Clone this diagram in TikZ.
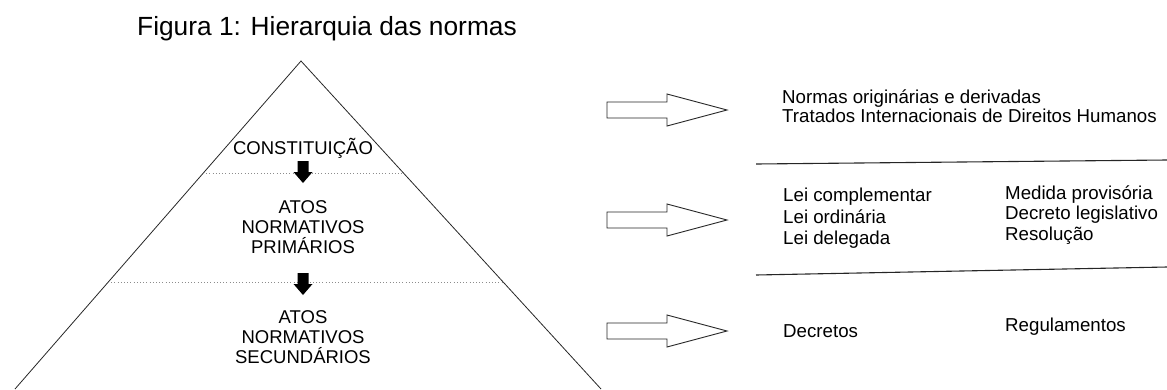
\documentclass[tikz,border=0pt]{standalone}
\usepackage{fontspec}
\setmainfont{Liberation Sans}
\begin{document}
\begin{tikzpicture}[x=1pt,y=-1pt,
  txt/.style={inner sep=0pt,anchor=base west,font=\fontsize{18.7}{20}\selectfont},
  ctxt/.style={inner sep=0pt,anchor=base,font=\fontsize{18.5}{20}\selectfont},
  side/.style={line width=0.8pt,draw=black!85},
  sep/.style={line width=1.1pt,draw=black!85},
  dots/.style={draw=black!45,line width=0.8pt,dash pattern=on 0.8pt off 2.4pt},
  blockarrow/.style={draw=black!85,line width=0.9pt,fill=white,line join=miter},
  downarrow/.style={fill=black,draw=none}]
\useasboundingbox (0,0) rectangle (1167,389);
% title
\node[inner sep=0pt,anchor=base west,font=\fontsize{26.3}{29}\selectfont] (title) at (137,35) {Figura 1: Hierarquia das normas};
% pyramid
\coordinate (apex) at (301,61);
\coordinate (bl) at (15,389);
\coordinate (br) at (601,389);
\draw[side] (bl) -- (apex) -- (br);
\draw[dots] (203,173) -- (403,173);
\draw[dots] (108,282) -- (502,282);
% texts in pyramid
\node[ctxt] (const) at (303,154.6) {CONSTITUIÇÃO};
\node[ctxt] (p1) at (303,213.6) {ATOS};
\node[ctxt] (p2) at (303,233.6) {NORMATIVOS};
\node[ctxt] (p3) at (303,253.6) {PRIMÁRIOS};
\node[ctxt] (s1) at (303,323.6) {ATOS};
\node[ctxt] (s2) at (303,343.6) {NORMATIVOS};
\node[ctxt] (s3) at (303,363.6) {SECUNDÁRIOS};
% black down arrows
\fill[downarrow] (297.5,161) -- (308.5,161) -- (308.5,172) -- (312.5,172) -- (303,183) -- (293.5,172) -- (297.5,172) -- cycle;
\fill[downarrow] (297.5,273) -- (308.5,273) -- (308.5,284) -- (312.5,284) -- (303,295) -- (293.5,284) -- (297.5,284) -- cycle;
% block arrows
\foreach \yc in {110,220,331}{
  \draw[blockarrow] (607,\yc-8) -- (667,\yc-8) -- (667,\yc-16) -- (727,\yc) -- (667,\yc+16) -- (667,\yc+8) -- (607,\yc+8) -- cycle;
}
% separators
\draw[sep] (756,164) -- (1167,160);
\draw[sep] (756,275) -- (1167,267);
% right texts
\node[txt] (n1) at (782,103.5) {Normas originárias e derivadas};
\node[txt] (n2) at (782,122) {Tratados Internacionais de Direitos Humanos};
\node[txt] (l1) at (783,201.5) {Lei complementar};
\node[txt] (l2) at (783,223.5) {Lei ordinária};
\node[txt] (l3) at (783,244.5) {Lei delegada};
\node[txt] (m1) at (1005,199.5) {Medida provisória};
\node[txt] (m2) at (1005,219.5) {Decreto legislativo};
\node[txt] (m3) at (1005,240.5) {Resolução};
\node[txt] (d1) at (783,337.5) {Decretos};
\node[txt] (r1) at (1005,331.5) {Regulamentos};
\end{tikzpicture}
\end{document}
